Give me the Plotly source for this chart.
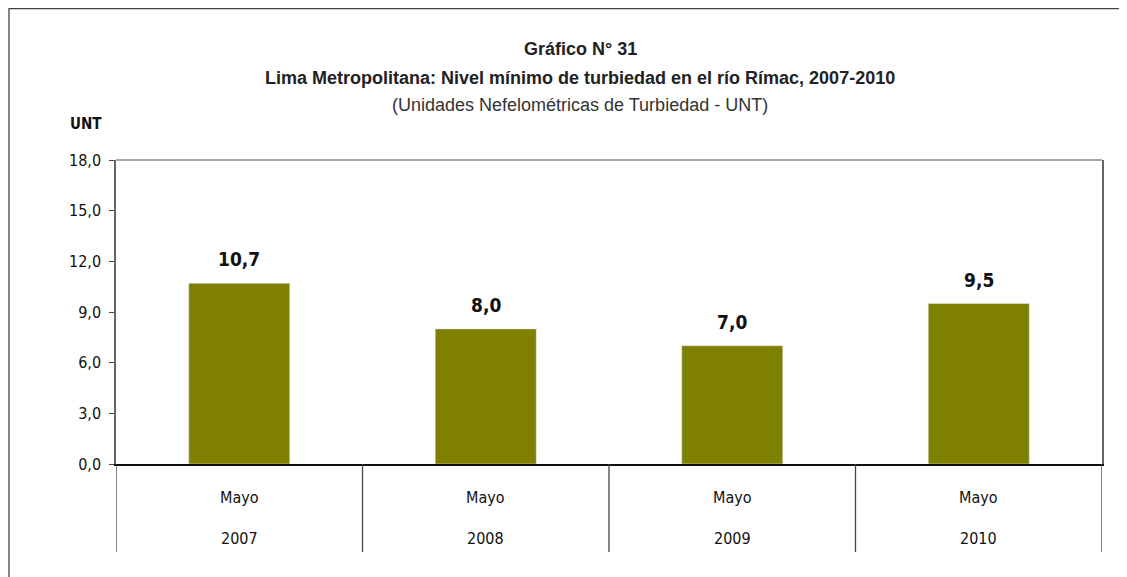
import plotly.graph_objects as go

years = ["2007", "2008", "2009", "2010"]
months = ["Mayo", "Mayo", "Mayo", "Mayo"]
values = [10.7, 8.0, 7.0, 9.5]
y_ticks = [0, 3, 6, 9, 12, 15, 18]

title1 = "Gráfico N° 31"
title2 = "Lima Metropolitana: Nivel mínimo de turbiedad en el río Rímac, 2007-2010"
title3 = "(Unidades Nefelométricas de Turbiedad - UNT)"
unit_label = "UNT"

OFF = 8  # page body margin
W, H = 1127 - OFF, 577 - OFF
L, R, T, B = 116 - OFF, 1102 - OFF, 160 - OFF, 464 - OFF
pw, ph = R - L, B - T


def px_x(x):
    return (x - OFF - L) / pw


def px_y(y):
    return (B - (y - OFF)) / ph


narrow = "DejaVu Sans Condensed, Liberation Sans Narrow, Arial Narrow, sans-serif"
sans = "Liberation Sans, Arial, sans-serif"

fig = go.Figure()
fig.add_trace(go.Bar(
    x=years, y=values, marker_color="#808000", width=0.41,
    hoverinfo="skip",
))

annotations = []
for i, (yr, m, v) in enumerate(zip(years, months, values)):
    annotations.append(dict(x=i, y=v, xref="x", yref="y",
                            text="<b>" + f"{v:.1f}".replace(".", ",") + "</b>",
                            showarrow=False, yanchor="bottom", yshift=11,
                            font=dict(family=narrow, size=19, color="#111")))
    annotations.append(dict(x=i, y=px_y(497), xref="x", yref="paper", text=m, showarrow=False,
                            yanchor="middle", font=dict(family=narrow, size=16, color="#111")))
    annotations.append(dict(x=i, y=px_y(538), xref="x", yref="paper", text=yr, showarrow=False,
                            yanchor="middle", font=dict(family=narrow, size=16, color="#111")))

annotations += [
    dict(x=px_x(580), y=px_y(49), xref="paper", yref="paper", text=f"<b>{title1}</b>", showarrow=False,
         yanchor="middle", font=dict(family=sans, size=18, color="#222")),
    dict(x=px_x(580), y=px_y(78), xref="paper", yref="paper", text=f"<b>{title2}</b>", showarrow=False,
         yanchor="middle", font=dict(family=sans, size=18, color="#222")),
    dict(x=px_x(580), y=px_y(105), xref="paper", yref="paper", text=title3, showarrow=False,
         yanchor="middle", font=dict(family=sans, size=18, color="#333")),
    dict(x=px_x(104), y=px_y(124), xref="paper", yref="paper", text=f"<b>{unit_label}</b>", showarrow=False,
         xanchor="right", yanchor="middle", font=dict(family=narrow, size=15, color="#111")),
]

shapes = []
# category dividers below axis
for i in range(len(years) + 1):
    shapes.append(dict(type="line", xref="x", yref="paper", x0=i - 0.5, x1=i - 0.5,
                       y0=0, y1=px_y(552), line=dict(color="#444", width=1.3)))
# top border of plot area
shapes.append(dict(type="line", xref="paper", yref="paper", x0=0, x1=1, y0=1, y1=1,
                   line=dict(color="#888", width=1.5)))
# outer frame
shapes.append(dict(type="rect", xref="paper", yref="paper", x0=px_x(9), x1=px_x(1150),
                   y0=px_y(600), y1=px_y(8.5), line=dict(color="#444", width=1.3)))

fig.update_layout(
    width=W, height=H,
    margin=dict(l=L, r=W - R, t=T, b=H - B),
    paper_bgcolor="white", plot_bgcolor="white",
    separators=",.",
    showlegend=False,
    annotations=annotations,
    shapes=shapes,
    xaxis=dict(type="category", range=[-0.5, 3.5], showticklabels=False, showgrid=False,
               showline=True, linecolor="#111", linewidth=1.5, ticks="", zeroline=False),
    yaxis=dict(range=[0, 18], tickvals=y_ticks, tickformat=".1f", showgrid=False,
               showline=True, linecolor="#666", linewidth=1.5, mirror=True,
               ticks="outside", ticklen=5, tickcolor="#444", tickwidth=1.3,
               ticklabelstandoff=5, zeroline=False,
               tickfont=dict(family=narrow, size=16, color="#111")),
)

fig.write_html("out.html")
